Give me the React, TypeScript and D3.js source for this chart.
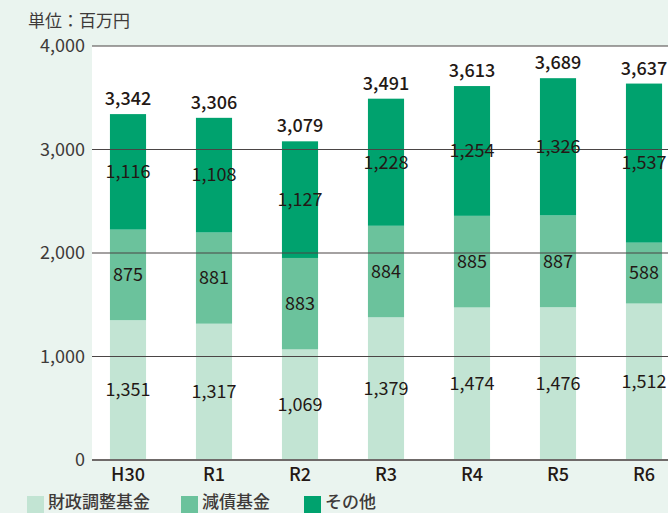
import React from "react";
import * as d3 from "d3";

const years = ["H30", "R1", "R2", "R3", "R4", "R5", "R6"];
const zaiseiChosei = [1351, 1317, 1069, 1379, 1474, 1476, 1512];
const gensai = [875, 881, 883, 884, 885, 887, 588];
const sonota = [1116, 1108, 1127, 1228, 1254, 1326, 1537];
const totals = [3342, 3306, 3079, 3491, 3613, 3689, 3637];
const yTicks = [0, 1000, 2000, 3000, 4000];

const seriesNames = ["財政調整基金", "減債基金", "その他"];
const seriesColors = ["#c2e4d3", "#6bc29c", "#00a26e"];

const W = 668;
const H = 513;
const plot = { left: 92, right: 668, top: 46, bottom: 460 };
const font = "'Noto Sans CJK JP', 'Noto Sans', sans-serif";
const fmt = d3.format(",");

export default function App() {
  const x = d3
    .scaleBand<string>()
    .domain(years)
    .range([85, 687])
    .paddingInner(0.58)
    .paddingOuter(0.29);

  const y = d3.scaleLinear().domain([0, 4000]).range([plot.bottom, plot.top]);

  const rows = years.map((yr, i) => ({
    year: yr,
    s0: zaiseiChosei[i],
    s1: gensai[i],
    s2: sonota[i],
  }));
  const stack = d3.stack<any>().keys(["s0", "s1", "s2"])(rows);
  const cx = (yr: string) => (x(yr) as number) + x.bandwidth() / 2;

  return (
    <svg
      width={W}
      height={H}
      style={{ position: "absolute", left: 0, top: 0, display: "block" }}
    >
      <rect x={0} y={0} width={W} height={H} fill="#eaf4ef" />
      <rect
        x={plot.left}
        y={plot.top}
        width={plot.right - plot.left}
        height={plot.bottom - plot.top}
        fill="#ffffff"
      />
      <text x={28} y={21} dy="0.35em" fontFamily={font} fontSize={17} fill="#3e3a39">
        単位：百万円
      </text>

      {/* bars */}
      {stack.map((layer, li) =>
        layer.map((d, i) => (
          <rect
            key={`${li}-${i}`}
            x={x(years[i])}
            y={y(d[1])}
            width={x.bandwidth()}
            height={y(d[0]) - y(d[1])}
            fill={seriesColors[li]}
          />
        ))
      )}

      {/* grid lines */}
      {yTicks.map((t) => (
        <g key={t}>
          <line
            x1={plot.left}
            x2={plot.right}
            y1={y(t)}
            y2={y(t)}
            stroke={t === 0 ? "#6f6a69" : "#4a4545"}
            strokeWidth={t === 0 ? 2 : 1.2}
          />
          <text
            x={85}
            y={y(t)}
            dy="0.35em"
            textAnchor="end"
            fontFamily={font}
            fontSize={18}
            fill="#3e3a39"
          >
            {fmt(t)}
          </text>
        </g>
      ))}

      {/* inner labels */}
      {stack.map((layer, li) =>
        layer.map((d, i) => (
          <text
            key={`l${li}-${i}`}
            x={cx(years[i])}
            y={(y(d[0]) + y(d[1])) / 2}
            dy="0.35em"
            textAnchor="middle"
            fontFamily={font}
            fontSize={18}
            fill="#231815"
          >
            {fmt(d[1] - d[0])}
          </text>
        ))
      )}

      {/* totals */}
      {totals.map((t, i) => (
        <text
          key={`t${i}`}
          x={cx(years[i])}
          y={y(d3.sum([zaiseiChosei[i], gensai[i], sonota[i]])) - 9}
          textAnchor="middle"
          fontFamily={font}
          fontSize={18}
          fontWeight={500}
          fill="#231815"
        >
          {fmt(t)}
        </text>
      ))}

      {/* x labels */}
      {years.map((yr) => (
        <text
          key={yr}
          x={cx(yr)}
          y={475}
          dy="0.35em"
          textAnchor="middle"
          fontFamily={font}
          fontSize={18}
          fontWeight={500}
          fill="#231815"
        >
          {yr}
        </text>
      ))}

      {/* legend */}
      {seriesNames.map((name, i) => {
        const lx = [27, 181, 304][i];
        return (
          <g key={name}>
            <rect x={lx} y={496} width={17} height={17} fill={seriesColors[i]} />
            <text
              x={lx + 21}
              y={502}
              dy="0.35em"
              fontFamily={font}
              fontSize={17}
              fontWeight={500}
              fill="#3e3a39"
            >
              {name}
            </text>
          </g>
        );
      })}
    </svg>
  );
}
